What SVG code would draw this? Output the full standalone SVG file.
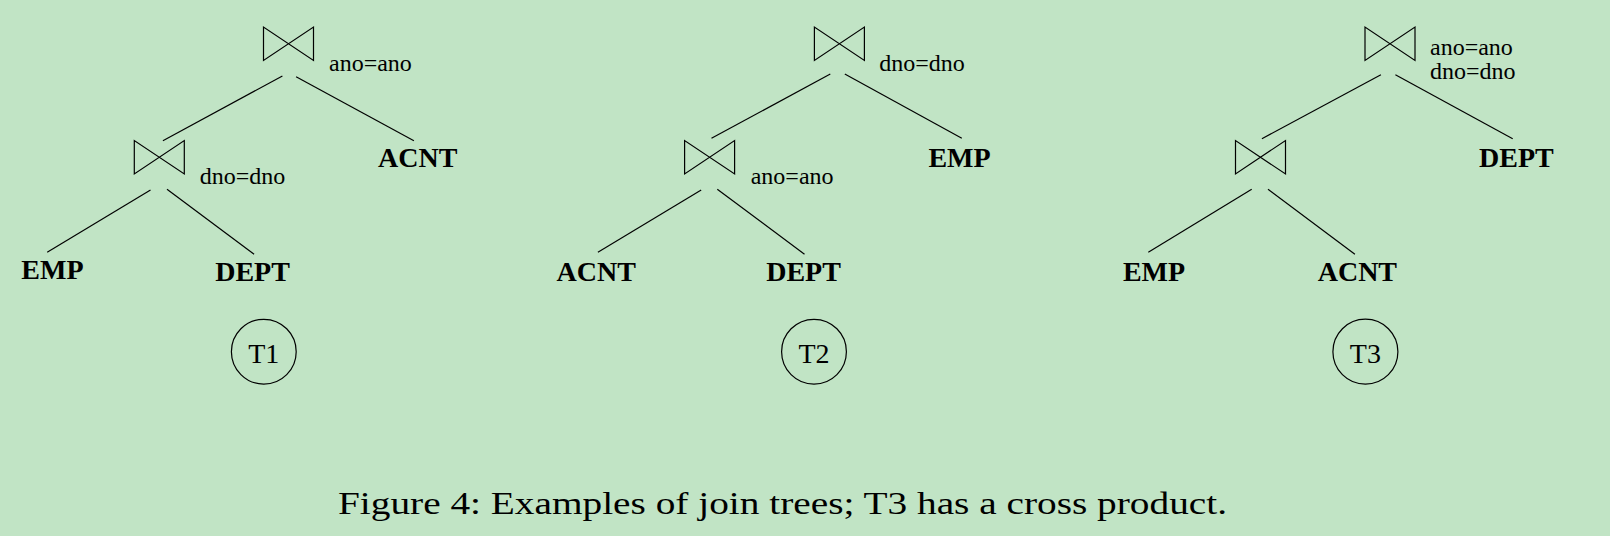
<svg xmlns="http://www.w3.org/2000/svg" width="1610" height="536" viewBox="0 0 1610 536">
<style>
.bt{fill:none;stroke:#000;stroke-width:1.2}
.ln{stroke:#000;stroke-width:1.2;fill:none}
.cond{font-family:"Liberation Serif","Times New Roman",serif;font-size:24px;fill:#000}
.rel{font-family:"Liberation Serif","Times New Roman",serif;font-size:28px;font-weight:bold;fill:#000}
.tl{font-family:"Liberation Serif","Times New Roman",serif;font-size:28px;fill:#000}
.cap{font-family:"Liberation Serif","Times New Roman",serif;font-size:32px;fill:#000}
</style>
<defs>
<path id="bowtie" d="M0,0 L0,33.5 L50,0 L50,33.5 Z"/>
</defs>
<rect width="1610" height="536" fill="#c1e4c5"/>

<g id="connectors">
<line class="ln" x1="282.4" y1="76" x2="162.9" y2="140.7"/>
<line class="ln" x1="296.1" y1="76.7" x2="413.9" y2="140.7"/>
<line class="ln" x1="150.5" y1="190" x2="47.2" y2="252.3"/>
<line class="ln" x1="167" y1="189.3" x2="254.1" y2="254.3"/>

<line class="ln" x1="830.3" y1="74" x2="711.5" y2="138.3"/>
<line class="ln" x1="844.8" y1="74" x2="961.8" y2="138.3"/>
<line class="ln" x1="701.2" y1="190" x2="597.9" y2="252.3"/>
<line class="ln" x1="717.3" y1="189.3" x2="804.5" y2="254.3"/>

<line class="ln" x1="1380.9" y1="74.7" x2="1261.9" y2="138.7"/>
<line class="ln" x1="1395.4" y1="74.7" x2="1512.7" y2="138.7"/>
<line class="ln" x1="1251.7" y1="189.3" x2="1148.3" y2="252.3"/>
<line class="ln" x1="1268" y1="189.3" x2="1354.9" y2="254.3"/>
</g>

<!-- T1 -->
<g id="t1-join-top">
<use href="#bowtie" class="bt" x="263.5" y="27"/>
<text class="cond" x="329" y="71">ano=ano</text>
</g>
<g id="t1-join-left">
<use href="#bowtie" class="bt" x="134.3" y="140.5"/>
<text class="cond" x="199.7" y="183.5">dno=dno</text>
</g>
<g id="t1-acnt"><text class="rel" x="378" y="167">ACNT</text></g>
<g id="t1-emp"><text class="rel" x="21.3" y="278.5">EMP</text></g>
<g id="t1-dept"><text class="rel" x="215.2" y="281">DEPT</text></g>
<g id="t1-label">
<circle cx="263.8" cy="351.7" r="32.4" class="bt"/>
<text class="tl" x="263.8" y="362.5" text-anchor="middle">T1</text>
</g>

<!-- T2 -->
<g id="t2-join-top">
<use href="#bowtie" class="bt" x="814.4" y="27"/>
<text class="cond" x="879.2" y="71">dno=dno</text>
</g>
<g id="t2-join-left">
<use href="#bowtie" class="bt" x="684.6" y="140.5"/>
<text class="cond" x="750.7" y="183.5">ano=ano</text>
</g>
<g id="t2-emp"><text class="rel" x="928.4" y="167">EMP</text></g>
<g id="t2-acnt"><text class="rel" x="556.5" y="281">ACNT</text></g>
<g id="t2-dept"><text class="rel" x="766.2" y="281">DEPT</text></g>
<g id="t2-label">
<circle cx="814" cy="351.7" r="32.4" class="bt"/>
<text class="tl" x="814" y="362.5" text-anchor="middle">T2</text>
</g>

<!-- T3 -->
<g id="t3-join-top">
<use href="#bowtie" class="bt" x="1365" y="27"/>
<text class="cond" x="1430" y="54.5">ano=ano</text>
<text class="cond" x="1430" y="78.5">dno=dno</text>
</g>
<g id="t3-join-left">
<use href="#bowtie" class="bt" x="1235.5" y="140.5"/>
</g>
<g id="t3-dept"><text class="rel" x="1479" y="167">DEPT</text></g>
<g id="t3-emp"><text class="rel" x="1122.9" y="281">EMP</text></g>
<g id="t3-acnt"><text class="rel" x="1317.7" y="281">ACNT</text></g>
<g id="t3-label">
<circle cx="1365.4" cy="351.7" r="32.5" class="bt"/>
<text class="tl" x="1365.4" y="362.5" text-anchor="middle">T3</text>
</g>

<g id="caption">
<text class="cap" x="338" y="514" textLength="889" lengthAdjust="spacingAndGlyphs">Figure 4: Examples of join trees; T3 has a cross product.</text>
</g>
</svg>
